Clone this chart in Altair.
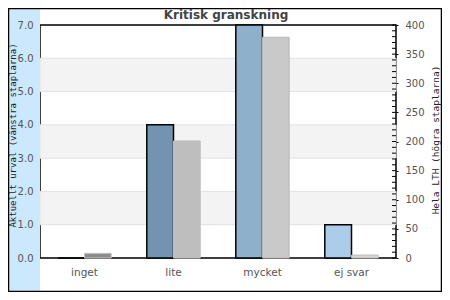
import altair as alt
import pandas as pd

categories = ["inget", "lite", "mycket", "ej svar"]
left_values = [0, 4, 7, 1]
right_values = [8, 201, 379, 5]
left_ticks = [0, 1, 2, 3, 4, 5, 6, 7]
right_ticks = [0, 50, 100, 150, 200, 250, 300, 350, 400]
minor_ticks = [0, 10, 20, 30, 40, 50, 60, 70, 80, 90, 100, 110, 120, 130, 140, 150,
               160, 170, 180, 190, 200, 210, 220, 230, 240, 250, 260, 270, 280, 290,
               300, 310, 320, 330, 340, 350, 360, 370, 380, 390, 400]
band_lo = [1, 3, 5]
band_hi = [2, 4, 6]
chart_title = "Kritisk granskning"

left_colors = ["#ffffff", "#7394b0", "#8fb0cb", "#abcde9"]
right_colors = ["#8c8c8c", "#bebebe", "#c9c9c9", "#d6d6d6"]
right_strokes = ["#c2c2c2", "#bcbcbc", "#b9b9b9", "#bababa"]

W, H = 356, 233

df_left = pd.DataFrame({"cat": categories, "val": left_values, "side": ["L"] * 4})
df_right = pd.DataFrame({"cat": categories, "val": right_values, "side": ["R"] * 4})
df_bands = pd.DataFrame({"lo": band_lo, "hi": band_hi})
df_minor = pd.DataFrame({"t": minor_ticks})
one = pd.DataFrame({"a": [0]})

xenc = alt.X("cat:N", sort=categories,
             scale=alt.Scale(paddingInner=0.4, paddingOuter=0.2),
             axis=alt.Axis(title=None, labelAngle=0, ticks=False, tickSize=0, domain=False,
                           labelPadding=9, labelFont="DejaVu Sans", labelFontSize=10.5,
                           labelColor="#555555"))
xoff = alt.XOffset("side:N", scale=alt.Scale(domain=["L", "R"], paddingInner=0, paddingOuter=0))

left_axis = alt.Axis(orient="left", values=left_ticks, format=".1f", grid=False,
                     ticks=False, tickSize=0, domain=False, labelPadding=7, zindex=2,
                     labelFont="DejaVu Sans", labelFontSize=10, labelColor="#555555",
                     titleFont="DejaVu Sans Mono", titleFontSize=9,
                     titleFontWeight="normal", titleColor="#222222",
                     titleAngle=270, titleX=-27.5, titleY=110,
                     titleAlign="center", titleBaseline="middle")
left_scale = alt.Scale(domain=[0, 7], nice=False)
left_title = "Aktuellt urval (vänstra staplarna)"

strip = alt.Chart(one).mark_rect(color="#cbe8fc").encode(
    x=alt.value(-31), x2=alt.value(0), y=alt.value(-16), y2=alt.value(266))

title_mark = alt.Chart(one).mark_text(
    text=chart_title, font="DejaVu Sans", fontSize=12, fontWeight="bold",
    color="#444444", align="center", baseline="alphabetic").encode(
    x=alt.value(186), y=alt.value(-6))

bands = alt.Chart(df_bands).mark_rect(fill="#f3f3f3", stroke="#e2e2e2", strokeWidth=1).encode(
    x=alt.value(0), x2=alt.value(W),
    y=alt.Y("lo:Q", scale=left_scale, axis=left_axis, title=left_title),
    y2="hi:Q")

left_bars = alt.Chart(df_left).mark_bar(stroke="black", strokeWidth=1.5).encode(
    x=xenc, xOffset=xoff,
    y=alt.Y("val:Q", scale=left_scale, axis=left_axis, title=left_title),
    fill=alt.Fill("cat:N", scale=alt.Scale(domain=categories, range=left_colors), legend=None))

right_axis = alt.Axis(orient="right", values=right_ticks, grid=False, ticks=True,
                      tickSize=2, tickColor="black", domain=False, labelPadding=7, zindex=2,
                      labelFont="DejaVu Sans", labelFontSize=10, labelColor="#555555",
                      titleFont="DejaVu Sans Mono", titleFontSize=9.5,
                      titleFontWeight="normal", titleColor="#222222",
                      titleAngle=270, titleX=39.5, titleY=114.5,
                      titleAlign="center", titleBaseline="middle")
right_scale = alt.Scale(domain=[0, 400], nice=False)
right_title = "Hela LTH (högra staplarna)"

right_bars = alt.Chart(df_right).mark_bar(strokeWidth=1).encode(
    x=xenc, xOffset=xoff,
    y=alt.Y("val:Q", scale=right_scale, axis=right_axis, title=right_title),
    fill=alt.Fill("cat:N", scale=alt.Scale(domain=categories, range=right_colors), legend=None),
    stroke=alt.Stroke("cat:N", scale=alt.Scale(domain=categories, range=right_strokes), legend=None))

minor = alt.Chart(df_minor).mark_rule(color="black", strokeWidth=1).encode(
    x=alt.value(W - 4), x2=alt.value(W),
    y=alt.Y("t:Q", scale=right_scale, axis=right_axis, title=right_title))

border = alt.Chart(one).mark_rect(filled=False, stroke="black", strokeWidth=1.5).encode(
    x=alt.value(-31.5), x2=alt.value(401.5), y=alt.value(-16.5), y2=alt.value(266.5))

left = alt.layer(bands, left_bars)
right = alt.layer(right_bars, minor)

chart = alt.layer(strip, left, right, border, title_mark).resolve_scale(
    y="independent", fill="independent", stroke="independent"
).properties(
    width=W, height=H,
    padding={"left": 32, "top": 17, "right": 46, "bottom": 34},
    autosize=alt.AutoSizeParams(type="none"),
    background="white",
).configure_view(stroke="black", strokeWidth=1.5)

chart.save("out.html", embed_options={"renderer": "svg", "actions": False})
